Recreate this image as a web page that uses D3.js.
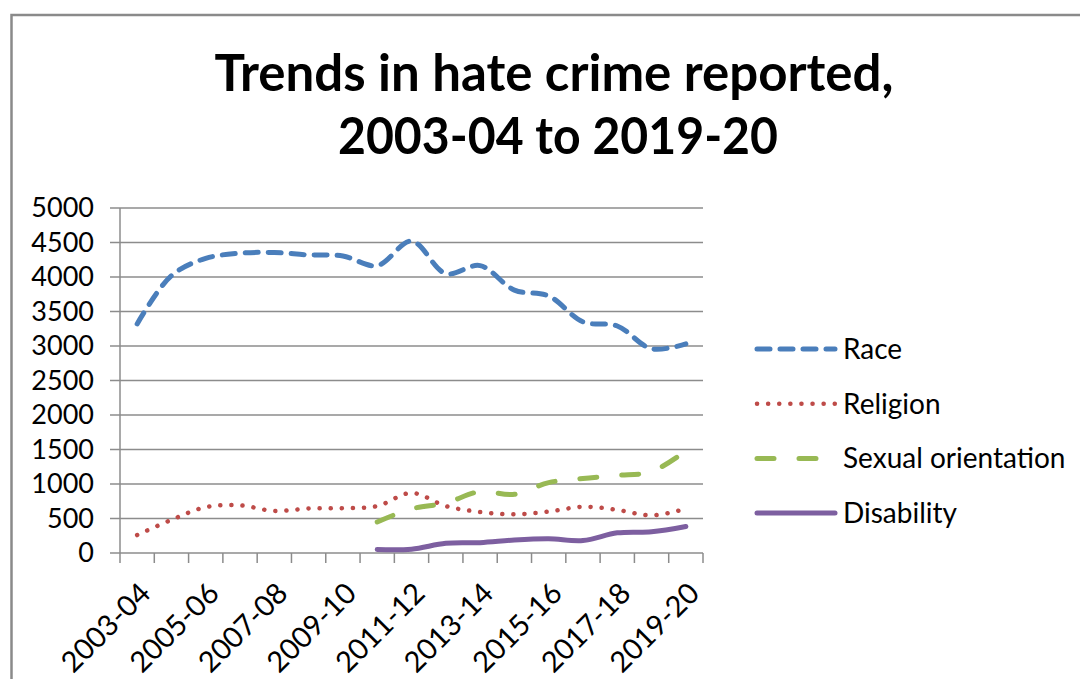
<!doctype html><html><head><meta charset="utf-8"></head><body style="margin:0;background:#fff"><script src='https://d3js.org/d3.v7.min.js'></script>

<style>
	svg text {
		fill: #000;
		font-family: Lato, "Open Sans", sans-serif;
	}
	.grid line { stroke: #8c8c8c; stroke-width: 1.5; }
</style>

<script>
  // categories and series
  var years = ["2003-04","2004-05","2005-06","2006-07","2007-08","2008-09","2009-10","2010-11",
    "2011-12","2012-13","2013-14","2014-15","2015-16","2016-17","2017-18","2018-19","2019-20"];
  var race = [3320, 4020, 4270, 4345, 4355, 4320, 4305, 4165, 4520, 4050, 4165, 3810, 3725, 3350, 3290, 2960, 3030];
  var religion = [260, 480, 665, 690, 610, 645, 650, 680, 870, 680, 595, 560, 600, 670, 625, 545, 640];
  var sexualOrientation = [null, null, null, null, null, null, null, 450, 640, 725, 890, 850, 1020, 1080, 1125, 1180, 1480];
  var disability = [null, null, null, null, null, null, null, 50, 55, 140, 150, 188, 205, 180, 292, 308, 385];
  var yTicks = [0, 500, 1000, 1500, 2000, 2500, 3000, 3500, 4000, 4500, 5000];
  var xLabels = ["2003-04","2005-06","2007-08","2009-10","2011-12","2013-14","2015-16","2017-18","2019-20"];
  var seriesNames = ["Race", "Religion", "Sexual orientation", "Disability"];

  var width = 1080, height = 679;
  var plotLeft = 120, plotRight = 703, plotTop = 208, plotBottom = 553;

  var svg = d3.select("body").append("svg")
    .attr("width", width)
    .attr("height", height);

  // chart border
  svg.append("rect")
    .attr("x", 11.5).attr("y", 15)
    .attr("width", 1100).attr("height", 700)
    .attr("fill", "none")
    .attr("stroke", "#8a8a8a")
    .attr("stroke-width", 2.5);

  var title = svg.append("text")
    .attr("text-anchor", "middle")
    .style("font-weight", "bold")
    .style("font-size", "51px");
  title.append("tspan").attr("x", 554).attr("y", 91).text("Trends in hate crime reported,");
  title.append("tspan").attr("x", 558).attr("y", 154)
    .attr("textLength", 440).attr("lengthAdjust", "spacingAndGlyphs")
    .text("2003-04 to 2019-20");

  var band = d3.scaleBand().domain(years).range([plotLeft, plotRight]);
  var x = d3.scalePoint().domain(years).range([plotLeft, plotRight]).padding(0.5);
  var y = d3.scaleLinear().domain([0, 5000]).range([plotBottom, plotTop]);

  // gridlines + y ticks
  var grid = svg.append("g").attr("class", "grid");
  grid.selectAll(".gl")
    .data(yTicks)
    .enter().append("line")
    .attr("class", "gl")
    .attr("x1", plotLeft - 10).attr("x2", plotRight)
    .attr("y1", function(d) { return y(d); })
    .attr("y2", function(d) { return y(d); });

  svg.selectAll(".ylab")
    .data(yTicks)
    .enter().append("text")
    .attr("class", "ylab")
    .attr("x", 94)
    .attr("y", function(d) { return y(d); })
    .attr("dy", "0.35em")
    .attr("text-anchor", "end")
    .style("font-size", "27px")
    .text(function(d) { return d; });

  // y axis line
  grid.append("line").attr("x1", plotLeft).attr("x2", plotLeft).attr("y1", plotTop).attr("y2", plotBottom);

  // x ticks at category boundaries
  var bounds = years.map(function(d) { return band(d); }).concat([plotRight]);
  grid.selectAll(".xt")
    .data(bounds)
    .enter().append("line")
    .attr("class", "xt")
    .attr("x1", function(d) { return d; })
    .attr("x2", function(d) { return d; })
    .attr("y1", plotBottom).attr("y2", plotBottom + 10);

  svg.selectAll(".xlab")
    .data(xLabels)
    .enter().append("text")
    .attr("class", "xlab")
    .attr("text-anchor", "end")
    .style("font-size", "29px")
    .attr("transform", function(d) {
      return "translate(" + (x(d) + 8) + "," + (plotBottom + 35) + ") rotate(-45)";
    })
    .attr("dy", "0.35em")
    .text(function(d) { return d; });

  var styles = [
    { data: race, color: "#4a7ebb", dash: "13,10", w: 5 },
    { data: religion, color: "#be4b48", dash: "0.1,11", w: 4.5 },
    { data: sexualOrientation, color: "#98b954", dash: "17,25", w: 5 },
    { data: disability, color: "#7d5fa0", dash: null, w: 5 }
  ];

  var line = d3.line()
    .defined(function(d) { return d != null; })
    .x(function(d, i) { return x(years[i]); })
    .y(function(d) { return y(d); })
    .curve(d3.curveCatmullRom.alpha(0.5));

  styles.forEach(function(s) {
    svg.append("path")
      .datum(s.data)
      .attr("d", line)
      .attr("fill", "none")
      .attr("stroke", s.color)
      .attr("stroke-width", s.w)
      .attr("stroke-linecap", "round")
      .attr("stroke-dasharray", s.dash);
  });

  // legend
  var leg = svg.selectAll(".leg")
    .data(seriesNames)
    .enter().append("g")
    .attr("class", "leg")
    .attr("transform", function(d, i) { return "translate(0," + (349 + i * 54.7) + ")"; });

  leg.append("line")
    .attr("x1", 757).attr("x2", 835)
    .attr("stroke", function(d, i) { return styles[i].color; })
    .attr("stroke-width", function(d, i) { return styles[i].w; })
    .attr("stroke-linecap", "round")
    .attr("stroke-dasharray", function(d, i) { return styles[i].dash; });

  leg.append("text")
    .attr("x", 843)
    .attr("dy", "0.35em")
    .style("font-size", "28px")
    .text(function(d) { return d; });
</script></body></html>
